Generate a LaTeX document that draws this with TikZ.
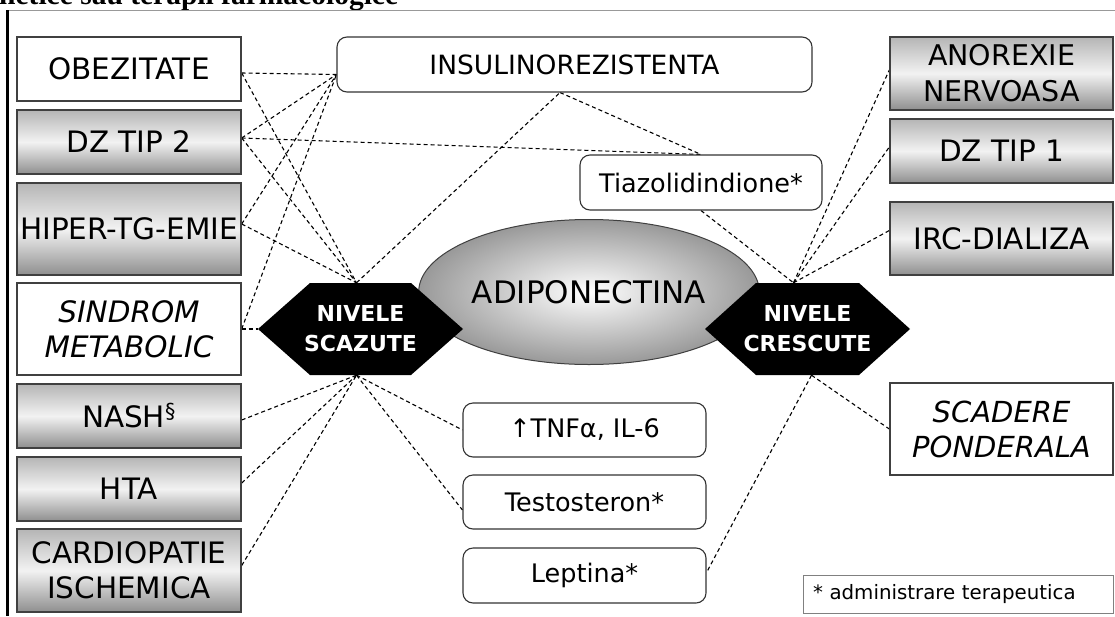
\documentclass[tikz,border=0pt]{standalone}
\usepackage{fontspec}
\setmainfont{DejaVu Sans}[ItalicFont={DejaVu Sans Oblique},BoldFont={DejaVu Sans Bold}]
\newfontfamily\headfont{Liberation Serif}
\usetikzlibrary{shapes.geometric,backgrounds}

\tikzset{
  box/.style={draw=black!75, line width=1.4pt, minimum width=224pt, inner sep=0pt,
    align=center, font=\fontsize{29.5}{35}\selectfont},
  plainbox/.style={box, fill=white},
  shadebox/.style={box, top color=gray!58, bottom color=gray!88, middle color=gray!10},
  roundbox/.style={draw=black!80, line width=1.1pt, rounded corners=10pt, fill=white,
    inner sep=0pt, minimum width=243pt, minimum height=55pt,
    font=\fontsize{25.5}{30}\selectfont},
  hexlabel/.style={minimum width=205pt, minimum height=92pt, inner sep=0pt, text=white,
    align=center, font=\bfseries\fontsize{22}{30}\selectfont},
  hexfill/.style={fill=black},
  link/.style={draw=black, line width=1.1pt, dash pattern=on 4pt off 3pt},
  legendbox/.style={draw=black!50, line width=0.8pt, text width=290pt, inner xsep=10pt,
    minimum height=38pt, align=left, font=\fontsize{19.8}{24}\selectfont},
}

\begin{document}
\begin{tikzpicture}[x=1pt,y=-1pt]
\useasboundingbox (0,0) rectangle (1115,616);
\clip (0,0) rectangle (1115,616);

% page heading, cut by the upper edge, and frame lines
\node[anchor=base west, inner sep=0pt, font=\headfont\bfseries\fontsize{29.5}{32}\selectfont]
  (heading) at (-1,4) {netice sau terapii farmacologice};
\draw[gray!80, line width=0.8pt] (7,10) -- (1115,10);
\draw[black, line width=3pt] (7.3,10) -- (7.3,616);

% left column: conditions with low levels
\node[plainbox, minimum height=64pt] (obez) at (129,69) {OBEZITATE};
\node[shadebox, minimum height=64pt] (dz2) at (129,142) {DZ TIP 2};
\node[shadebox, minimum height=92pt] (hiper) at (129,229) {HIPER-TG-EMIE};
\node[plainbox, minimum height=92pt, font=\itshape\fontsize{29.5}{35}\selectfont]
  (sind) at (129,329) {SINDROM\\METABOLIC};
\node[shadebox, minimum height=64pt] (nash) at (129,416) {NASH\textsuperscript{§}};
\node[shadebox, minimum height=64pt] (hta) at (129,489) {HTA};
\node[shadebox, minimum height=83pt] (cardio) at (129,570.5) {CARDIOPATIE\\ISCHEMICA};

% right column: conditions with high levels
\node[shadebox, minimum width=223pt, minimum height=73pt, font=\fontsize{28.5}{36}\selectfont]
  (anor) at (1001.5,73.5) {ANOREXIE\\NERVOASA};
\node[shadebox, minimum width=223pt, minimum height=64pt] (dz1) at (1001.5,151) {DZ TIP 1};
\node[shadebox, minimum width=223pt, minimum height=73pt] (irc) at (1001.5,238.5) {IRC-DIALIZA};
\node[plainbox, minimum width=223pt, minimum height=92pt, font=\itshape\fontsize{29}{35}\selectfont]
  (scad) at (1001.5,429) {SCADERE\\PONDERALA};
\node[legendbox] (legend) at (958,594) {* administrare terapeutica};

% centre
\node[roundbox, minimum width=475pt, font=\fontsize{26.5}{30}\selectfont]
  (insul) at (574.5,64.5) {INSULINOREZISTENTA};
\node[roundbox, minimum width=242pt] (tiaz) at (701,182.5) {Tiazolidindione*};
\node[ellipse, draw=black!75, line width=1pt, minimum width=328pt, minimum height=145pt,
  inner color=white, outer color=gray!80, font=\fontsize{31}{36}\selectfont]
  (adipo) at (589,292) {ADIPONECTINA};
\node[roundbox, minimum height=54pt] (tnf) at (584.5,430) {↑TNFα, IL-6};
\node[roundbox, minimum height=54pt] (testo) at (584.5,502) {Testosteron*};
\node[roundbox] (lept) at (584.5,575.5) {Leptina*};

% the two hexagonal level markers
\fill[hexfill] (258,329) -- (310,283) -- (411,283) -- (463,329) -- (411,375) -- (310,375) -- cycle;
\fill[hexfill] (705,329) -- (756,283) -- (859,283) -- (910,329) -- (859,375) -- (756,375) -- cycle;
\node[hexlabel] (scaz) at (360.5,329) {NIVELE\\SCAZUTE};
\node[hexlabel] (cresc) at (807.5,329) {NIVELE\\CRESCUTE};

% connector meeting points
\coordinate (iL) at ([yshift=-10pt]insul.west);
\coordinate (iB) at ([xshift=-14.5pt]insul.south);
\coordinate (sT) at ([xshift=-4pt]scaz.north);
\coordinate (sB) at ([xshift=-4pt]scaz.south);
\coordinate (cT) at ([xshift=-14pt]cresc.north);
\coordinate (cB) at ([xshift=4pt]cresc.south);

\begin{pgfonlayer}{background}
  \draw[link] ([yshift=-4pt]obez.east) -- (iL);
  \draw[link] ([yshift=-4pt]obez.east) -- (sT);
  \draw[link] ([yshift=4pt]dz2.east) -- (iL);
  \draw[link] ([yshift=4pt]dz2.east) -- (tiaz.north);
  \draw[link] ([yshift=4pt]dz2.east) -- (sT);
  \draw[link] ([yshift=5pt]hiper.east) -- (iL);
  \draw[link] ([yshift=5pt]hiper.east) -- (sT);
  \draw[link] (sind.east) -- (iL);
  \draw[link] (sind.east) -- (scaz.west);
  \draw[link] ([yshift=-4pt]nash.east) -- (sB);
  \draw[link] ([yshift=6pt]hta.east) -- (sB);
  \draw[link] ([yshift=5pt]cardio.east) -- (sB);
  \draw[link] (sB) -- (tnf.west);
  \draw[link] (sB) -- ([yshift=-8pt]testo.west);
  \draw[link] (sT) -- (iB);
  \draw[link] (iB) -- (tiaz.north);
  \draw[link] (tiaz.south) -- (cT);
  \draw[link] (cT) -- ([yshift=3.5pt]anor.west);
  \draw[link] (cT) -- ([yshift=4pt]dz1.west);
  \draw[link] (cT) -- ([yshift=8pt]irc.west);
  \draw[link] (cB) -- (scad.west);
  \draw[link] (cB) -- ([yshift=3pt]lept.east);
\end{pgfonlayer}
\end{tikzpicture}
\end{document}
